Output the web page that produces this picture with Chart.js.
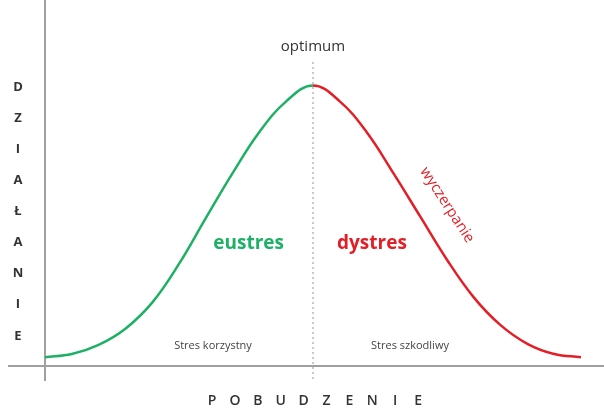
<!DOCTYPE html>
<html>
<head>
<meta charset="utf-8">
<script src="https://cdn.jsdelivr.net/npm/chart.js@4"></script>
<style>
  html, body { margin: 0; padding: 0; background: #fff; }
  #wrap { width: 604px; height: 412px; }
</style>
</head>
<body>
<div id="wrap"><canvas id="c" width="604" height="412"></canvas></div>
<script>
// pobudzenie (oś X) i działanie (oś Y)
const arousal  = [0, 5, 10, 15, 20, 25, 30, 35, 40, 45, 50,
                  55, 60, 65, 70, 75, 80, 85, 90, 95, 100];
const activity = [2.5, 3.4, 6.0, 10.6, 18.0, 29.0, 42.0, 54.8, 66.5, 75.2, 79.7,
                  75.2, 66.5, 54.8, 42.5, 30.2, 19.5, 11.6, 6.3, 3.4, 2.5];
const optimum = 50;

const yLetters = ['D', 'Z', 'I', 'A', 'Ł', 'A', 'N', 'I', 'E'];
const xLetters = ['P', 'O', 'B', 'U', 'D', 'Z', 'E', 'N', 'I', 'E'];

const GREEN = 'rgb(30, 176, 100)';
const RED = 'rgb(228, 30, 38)';
const FONT = '"Open Sans", "Noto Sans", sans-serif';

// osie, linia optimum i napisy
const decorPlugin = {
    id: 'decor',
    beforeDatasetsDraw(chart) {
        const ctx = chart.ctx;
        const xs = chart.scales.x, ys = chart.scales.y;
        const x0 = xs.getPixelForValue(0), y0 = ys.getPixelForValue(0);
        const xOpt = xs.getPixelForValue(optimum);
        ctx.save();
        ctx.strokeStyle = '#a0a0a0';
        ctx.lineWidth = 2;
        ctx.beginPath();
        ctx.moveTo(8, y0); ctx.lineTo(604, y0);
        ctx.moveTo(x0, 0); ctx.lineTo(x0, 381);
        ctx.stroke();
        // przerywana linia optimum
        ctx.strokeStyle = '#b8b8b8';
        ctx.lineWidth = 1.5;
        ctx.setLineDash([2, 3]);
        ctx.beginPath();
        ctx.moveTo(xOpt, 62); ctx.lineTo(xOpt, 382);
        ctx.stroke();
        ctx.restore();
    },
    afterDatasetsDraw(chart) {
        const ctx = chart.ctx;
        const xs = chart.scales.x;
        const px = v => xs.getPixelForValue(v);
        ctx.save();
        ctx.textAlign = 'center';
        ctx.textBaseline = 'middle';

        ctx.fillStyle = '#333';
        ctx.font = '15px ' + FONT;
        ctx.fillText('optimum', px(optimum), 47);

        ctx.font = 'bold 19px ' + FONT;
        ctx.fillStyle = GREEN;
        ctx.fillText('eustres', px(38), 244);
        ctx.fillStyle = RED;
        ctx.fillText('dystres', px(61), 244);

        // wyczerpanie wzdłuż zbocza
        ctx.save();
        ctx.translate(447, 205);
        ctx.rotate(57 * Math.PI / 180);
        ctx.font = '15px ' + FONT;
        ctx.fillStyle = RED;
        ctx.fillText('wyczerpanie', 0, 0);
        ctx.restore();

        ctx.fillStyle = '#444';
        ctx.font = '11px ' + FONT;
        ctx.fillText('Stres korzystny', 213, 346);
        ctx.fillText('Stres szkodliwy', 410, 346);

        ctx.fillStyle = '#333';
        ctx.font = 'bold 13px ' + FONT;
        yLetters.forEach((l, i) => ctx.fillText(l, 18, 87 + i * 31.1));
        ctx.font = '600 14px ' + FONT;
        xLetters.forEach((l, i) => ctx.fillText(l, 212 + i * 22.9, 401));
        ctx.restore();
    }
};

new Chart(document.getElementById('c'), {
    type: 'line',
    data: {
        datasets: [{
            label: 'działanie',
            data: arousal.map((x, i) => ({x: x, y: activity[i]})),
            borderColor: GREEN,
            segment: {
                borderColor: ctx => ctx.p0.parsed.x < optimum ? GREEN : RED
            },
            borderWidth: 2.5,
            pointRadius: 0,
            tension: 0.4
        }]
    },
    options: {
        responsive: false,
        animation: false,
        layout: {padding: {left: 45, right: 0, top: 0, bottom: 46}},
        scales: {
            x: {type: 'linear', min: 0, max: 104.3, display: false},
            y: {min: 0, max: 104, display: false}
        },
        plugins: {legend: {display: false}, tooltip: {enabled: false}}
    },
    plugins: [decorPlugin]
});
</script>
</body>
</html>
